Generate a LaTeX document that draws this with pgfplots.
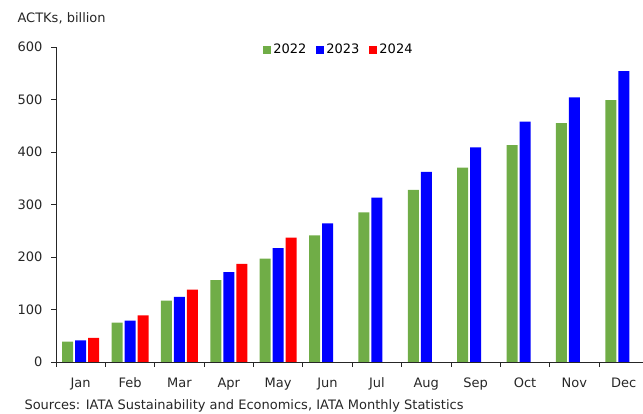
\documentclass[border=0pt]{standalone}
\usepackage{fontspec}
\setmainfont{DejaVu Sans}
\usepackage{pgfplots}
\pgfplotsset{compat=1.18}
\definecolor{g22}{HTML}{70AD47}
\definecolor{b23}{HTML}{0000FF}
\definecolor{r24}{HTML}{FF0000}
\definecolor{axgray}{HTML}{262626}
\begin{document}
\fontsize{13}{15}\selectfont
\begin{tikzpicture}
\useasboundingbox (0,0) rectangle (643pt,414pt);
\begin{axis}[
    at={(56pt,52pt)}, anchor=south west,
    scale only axis, width=587pt, height=315pt,
    ybar=2pt, bar width=11pt,
    xmin=-0.5, xmax=11.39, ymin=0, ymax=600,
    xtick={0,...,11},
    xticklabels={Jan,Feb,Mar,Apr,May,Jun,Jul,Aug,Sep,Oct,Nov,Dec},
    major x tick style={draw=none},
    minor xtick={-0.5,0.5,...,10.5},
    minor tick length=5pt, major tick length=5pt,
    tick align=outside,
    ytick={0,100,...,600},
    axis lines*=left,
    axis line style={axgray, line width=0.9pt},
    tick style={axgray, line width=0.9pt},
    tick label style={font=\fontsize{13}{15}\selectfont, text=axgray},
    /pgf/number format/assume math mode=true,
    xticklabel style={yshift=-6pt},
    yticklabel style={xshift=-4pt},
    legend style={at={(0.482,0.99)}, anchor=center, draw=none, fill=none,
        legend columns=-1, font=\fontsize{13}{15}\selectfont,
        /tikz/every even column/.append style={column sep=8pt}},
    legend image code/.code={\fill[#1] (0pt,-4pt) rectangle (8pt,4pt);},
]
\addplot[fill=g22, draw=none] coordinates {(0,39) (1,75) (2,117) (3,156) (4,197) (5,241) (6,285) (7,328) (8,370) (9,413) (10,455) (11,499)};
\addplot[fill=b23, draw=none] coordinates {(0,41) (1,79) (2,124) (3,171) (4,217) (5,264) (6,313) (7,362) (8,409) (9,458) (10,504) (11,554)};
\addplot[fill=r24, draw=none] coordinates {(0,46) (1,89) (2,138) (3,187) (4,237)};
\legend{2022,2023,2024}
\end{axis}
\node[anchor=base west, text=axgray] at (13pt,391pt) {ACTKs, billion};
\node[anchor=base west, text=axgray] at (20pt,4pt) {Sources: IATA Sustainability and Economics, IATA Monthly Statistics};
\end{tikzpicture}
\end{document}
